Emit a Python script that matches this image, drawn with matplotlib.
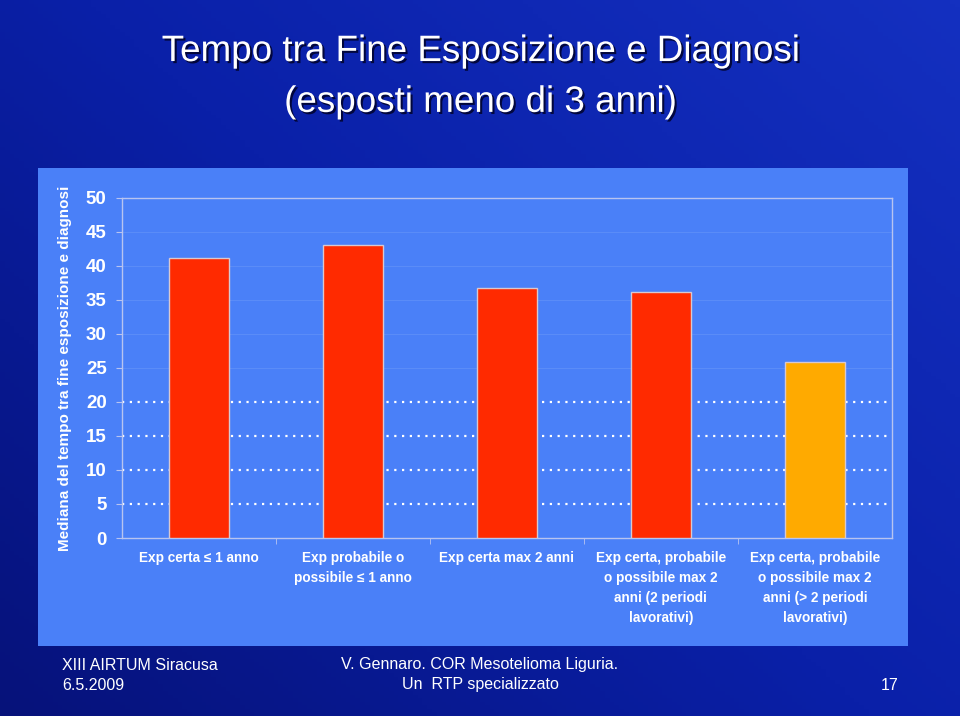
import numpy as np
import matplotlib
matplotlib.use("Agg")
import matplotlib.pyplot as plt
import matplotlib.patheffects as pe
from matplotlib.patches import Rectangle

categories = [
    "Exp certa \u2264 1 anno",
    "Exp probabile o\npossibile \u2264 1 anno",
    "Exp certa max 2 anni",
    "Exp certa, probabile\no possibile max 2\nanni (2 periodi\nlavorativi)",
    "Exp certa, probabile\no possibile max 2\nanni (> 2 periodi\nlavorativi)",
]
values = [41.2, 43.1, 36.8, 36.2, 25.9]
bar_colors = ["#ff2a00", "#ff2a00", "#ff2a00", "#ff2a00", "#ffaa00"]
yticks = [0, 5, 10, 15, 20, 25, 30, 35, 40, 45, 50]

plt.rcParams["font.family"] = ["Liberation Sans", "DejaVu Sans"]

fig = plt.figure(figsize=(9.6, 7.16), dpi=100)

# slide background
bg = fig.add_axes([0, 0, 1, 1], zorder=-10)
gy, gx = np.mgrid[0:1:200j, 0:1:200j]
shade = 0.55 * gx + 0.45 * (1 - gy)
bg.imshow(shade, cmap=matplotlib.colors.LinearSegmentedColormap.from_list(
    "slide", ["#06127a", "#0a20a8", "#1430c0"]), extent=[0, 1, 0, 1],
    aspect="auto", origin="upper")
bg.add_patch(Rectangle((38 / 960, 1 - 646 / 716), 870 / 960, 478 / 716,
                       facecolor="#4a80f8", edgecolor="none"))
bg.set_xlim(0, 1)
bg.set_ylim(0, 1)
bg.axis("off")

shadow = [pe.withSimplePatchShadow(offset=(1.5, -1.5), shadow_rgbFace="#000020", alpha=0.8)]
fig.text(0.5, 0.928, "Tempo tra Fine Esposizione e Diagnosi", ha="center", va="center",
         color="white", fontsize=26.5, path_effects=shadow)
fig.text(0.5, 0.857, "(esposti meno di 3 anni)", ha="center", va="center",
         color="white", fontsize=26.5, path_effects=shadow)

ax = fig.add_axes([0.127, 0.2486, 0.802, 0.4749])
ax.set_facecolor("none")
x = np.arange(len(categories))

# faint upper lines, dotted lower lines
for v in yticks[1:]:
    if v <= 20:
        ax.axhline(v, color="white", linestyle=(0, (1, 2.5)), linewidth=1.6, zorder=1)
    else:
        ax.axhline(v, color="#5a8cf8", linewidth=0.8, zorder=1)

ax.bar(x, values, width=0.39, color=bar_colors, edgecolor="#d8c8d0", linewidth=1, zorder=3)

ax.set_xlim(-0.5, len(categories) - 0.5)
ax.set_ylim(0, 50)
ax.set_yticks(yticks)
ax.set_yticklabels([str(v) for v in yticks], color="white", fontsize=13.5,
                   fontweight="bold")
ax.set_xticks(x[:-1] + 0.5, minor=True)
ax.set_xticks(x)
ax.set_xticklabels([])
ax.tick_params(axis="x", which="major", length=0)
ax.tick_params(axis="x", which="minor", length=4, color="#b8c4f0", direction="out")
ax.tick_params(axis="y", length=4, color="#b8c4f0", pad=7)
for s in ax.spines.values():
    s.set_color("#b8c4f0")
    s.set_linewidth(1)

for i, lab in enumerate(categories):
    ax.text(i, -1.9, lab, ha="center", va="top", color="white", fontsize=9.8,
            fontweight="bold", linespacing=1.55, transform=ax.transData)

ax.set_ylabel("Mediana del tempo tra fine esposizione e diagnosi", color="white",
              fontsize=11, fontweight="bold", labelpad=10)

# footer
fig.text(62 / 960, 1 - 665 / 716, "XIII AIRTUM Siracusa", color="white", fontsize=11.5, va="center")
fig.text(62 / 960, 1 - 685 / 716, "6.5.2009", color="white", fontsize=11.5, va="center")
fig.text(480 / 960, 1 - 665 / 716, "V. Gennaro. COR Mesotelioma Liguria.", color="white",
         fontsize=11.5, va="center", ha="center")
fig.text(480 / 960, 1 - 685 / 716, "Un  RTP specializzato", color="white", fontsize=11.5,
         va="center", ha="center")
fig.text(890 / 960, 1 - 685 / 716, "17", color="white", fontsize=11.5, va="center", ha="center")

fig.savefig("out.png", dpi=100)
